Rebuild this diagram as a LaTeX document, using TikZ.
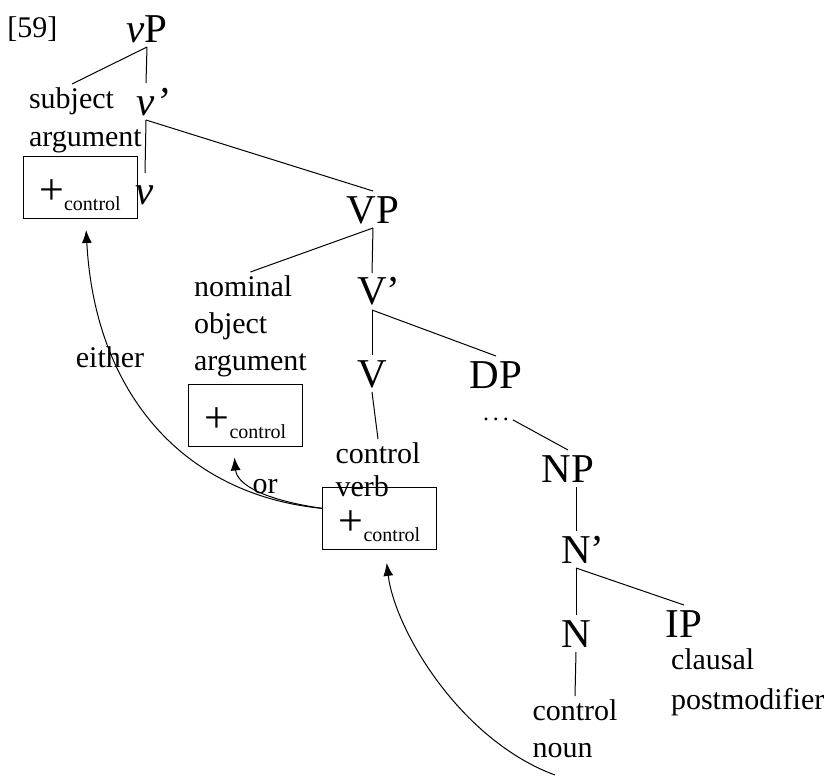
\documentclass[tikz,border=0pt]{standalone}
\usepackage{fontspec}
\setmainfont{Liberation Serif}
\usetikzlibrary{arrows.meta}

\newcommand{\pluscontrol}{{\fontsize{22}{22}\selectfont+}\raisebox{-3pt}{\fontsize{10}{12}\selectfont control}}

\begin{document}
\begin{tikzpicture}[x=0.5pt, y=-0.5pt,
    cat/.style={inner sep=0pt, outer sep=2.5pt, text height=13.5pt, text depth=0pt, anchor=base, font=\fontsize{20.5}{24}\selectfont},
    words/.style={inner sep=0pt, outer sep=2pt, align=left, font=\fontsize{15}{19}\selectfont},
    featbox/.style={draw, line width=0.5pt, inner sep=0pt, minimum width=57pt, minimum height=31pt, text height=17pt, text depth=0pt},
    branch/.style={line width=0.5pt},
    arr/.style={-{Latex[length=6.5pt, width=5pt]}, line width=0.5pt, shorten >=5.5pt}]
    \useasboundingbox (0,0) rectangle (827,776);

    % Example number
    \node[anchor=base west, inner sep=0pt, font=\fontsize{15}{17}\selectfont] (num) at (7,38) {[59]};

    % Category labels of the tree
    \node[cat] (vP) at (147,42) {\textit{v}P};
    \node[cat] (vbar) at (146,115) {\textit{v\rlap{’}}};
    \node[cat] (vhead) at (145,205) {\textit{v}};
    \node[cat] (VP) at (373,223) {VP};
    \node[cat] (Vbar) at (372,305) {V\rlap{’}};
    \node[cat] (V) at (372,387) {V};
    \node[cat] (DP) at (496,388) {DP};
    \node[inner sep=0pt, outer sep=2pt, anchor=base, font=\fontsize{12}{14}\selectfont] (dots) at (496,421) {.\,.\,.};
    \node[cat] (NP) at (568,482) {NP};
    \node[cat] (Nbar) at (576,563) {N\rlap{’}};
    \node[cat] (N) at (576,647) {N};
    \node[cat] (IP) at (684,637) {IP};

    % Word labels
    \node[words, anchor=north west] (subj) at (25,84) {subject\\argument};
    \node[words, anchor=north west, font=\fontsize{15}{18.5}\selectfont] (nom) at (190,272) {nominal\\object\\argument};
    \node[words, anchor=north, font=\fontsize{15}{16.5}\selectfont] (cverb) at (378,439) {control\\verb};
    \node[words, anchor=north, font=\fontsize{15}{18.5}\selectfont] (cnoun) at (575,696) {control\\noun};
    \node[words, anchor=north west, font=\fontsize{15}{20}\selectfont] (clausal) at (667,645) {clausal\\postmodifier};
    \node[words, anchor=base] (either) at (110,367) {either};
    \node[words, anchor=base] (or) at (265,493) {or};

    % Feature boxes
    \node[featbox] (box1) at (80,187.5) {\pluscontrol};
    \node[featbox] (box2) at (245.5,415) {\pluscontrol};
    \node[featbox] (box3) at (379.5,518.5) {\pluscontrol};

    % Draw the branches
    \draw[branch] (vP.south) -- (subj.110);
    \draw[branch] (vP.south) -- (vbar.north);
    \draw[branch] (vbar.south) -- (vhead.north);
    \draw[branch] (vbar.south) -- (VP.north);
    \draw[branch] (VP.south) -- (nom.north);
    \draw[branch] (VP.south) -- (Vbar.north);
    \draw[branch] (Vbar.south) -- (V.north);
    \draw[branch] (Vbar.south) -- (DP.north);
    \draw[branch] (V.south) -- (cverb.north);
    \draw[branch] (dots.east) -- (NP.north);
    \draw[branch] (NP.south -| Nbar.north) -- (Nbar.north);
    \draw[branch] (Nbar.south) -- (N.north);
    \draw[branch] (Nbar.south) -- (IP.north);
    \draw[branch] (N.south) -- (cnoun.north);

    % Curved arrows
    \coordinate (src) at (555,775);
    \draw[arr] (box3.170) .. controls (185,495) and (95,395) .. (box1.-80);
    \draw[arr] (box3.170) .. controls (265,500) and (237,485) .. (box2.-111);
    \draw[arr, shorten >=6.5pt] (src) .. controls (460,740) and (395,630) .. (box3.-80);
\end{tikzpicture}
\end{document}
